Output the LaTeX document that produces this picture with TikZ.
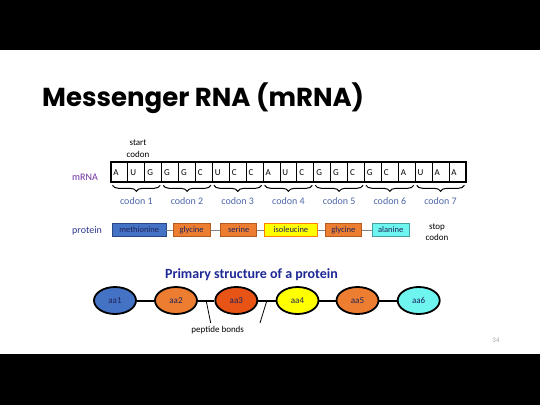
\documentclass[tikz,border=0pt]{standalone}
\usepackage{fontspec}
\setmainfont{Carlito}
\newfontfamily\titlefont{Poppins}
\usetikzlibrary{shapes.geometric,decorations.pathreplacing,calc,positioning}

\definecolor{mrnapurple}{RGB}{112,48,160}
\definecolor{codonblue}{RGB}{78,104,168}
\definecolor{protblue}{RGB}{46,56,140}
\definecolor{boxtext}{RGB}{30,36,90}
\definecolor{metblue}{RGB}{68,114,196}
\definecolor{metedge}{RGB}{40,70,130}
\definecolor{aaorange}{RGB}{237,125,49}
\definecolor{orangeedge}{RGB}{180,90,30}
\definecolor{aared}{RGB}{232,84,22}
\definecolor{aayellow}{RGB}{255,255,0}
\definecolor{aacyan}{RGB}{110,245,240}
\definecolor{cyanedge}{RGB}{70,160,160}
\definecolor{titleblue}{RGB}{30,40,150}

\begin{document}
\begin{tikzpicture}[x=1pt,y=-1pt,
  cell/.style={draw,line width=1pt,fill=white,minimum width=16.9pt,minimum height=19pt,
    inner xsep=2pt,text width=12pt,align=left,font=\fontsize{9}{10}\selectfont},
  codonbrace/.style={decorate,decoration={brace,mirror,amplitude=6pt},line width=1pt},
  codonlbl/.style={text=codonblue,font=\fontsize{10}{12}\selectfont},
  aminobox/.style={draw,line width=0.8pt,minimum height=13pt,inner sep=0pt,
    text=boxtext,font=\fontsize{8.5}{10}\selectfont},
  amino/.style={ellipse,draw,line width=1.8pt,minimum width=42pt,minimum height=27pt,
    inner sep=0pt,text=boxtext,font=\fontsize{9}{10}\selectfont},
  link/.style={draw=gray,line width=1pt},
  bond/.style={line width=2pt}]
\useasboundingbox (0,0) rectangle (540,405);
\fill[white] (0,0) rectangle (540,405);
\fill[black] (0,0) rectangle (540,50);
\fill[black] (0,354) rectangle (540,405);

\node[anchor=base west,inner sep=0pt,font=\titlefont\bfseries\fontsize{26}{30}\selectfont] (title) at (42,106) {Messenger RNA (mRNA)};

% mRNA strand
\foreach \b [count=\i] in {A,U,G,G,G,C,U,C,C,A,U,C,G,G,C,G,C,A,U,A,A}
  \node[cell] (c\i) at ({111+16.9*(\i-1)+8.45},172.3) {\b};
\draw[line width=2pt] (c1.north west) rectangle (c21.south east);
\node[align=center,font=\fontsize{9}{12}\selectfont] (start) at (138,149) {start\\codon};
\node[text=mrnapurple,font=\fontsize{10}{12}\selectfont] (mrna) at (85,177) {mRNA};

\foreach \k [evaluate=\k as \first using int(3*\k-2),
             evaluate=\k as \mid using int(3*\k-1),
             evaluate=\k as \last using int(3*\k)] in {1,...,7} {
  \draw[codonbrace] ([xshift=2pt,yshift=-3pt]c\first.south west) -- ([xshift=-2pt,yshift=-3pt]c\last.south east);
  \node[codonlbl] (cod\k) at ([yshift=-19pt]c\mid.south) {codon \k};
}

% protein row
\node[text=protblue,font=\fontsize{10}{12}\selectfont] (protein) at (87,230.5) {protein};
\node[aminobox,fill=metblue,draw=metedge,minimum width=53.7pt] (p1) at (139.2,230) {methionine};
\node[aminobox,fill=aaorange,draw=orangeedge,minimum width=36.7pt] (p2) at (191.7,230) {glycine};
\node[aminobox,fill=aaorange,draw=orangeedge,minimum width=36pt] (p3) at (238.7,230) {serine};
\node[aminobox,fill=aayellow,draw=orange,minimum width=53.7pt] (p4) at (290.9,230) {isoleucine};
\node[aminobox,fill=aaorange,draw=orangeedge,minimum width=36.7pt] (p5) at (343.4,230) {glycine};
\node[aminobox,fill=aacyan,draw=cyanedge,minimum width=36.7pt] (p6) at (390.7,230) {alanine};
\foreach \a/\b in {p1/p2,p2/p3,p3/p4,p4/p5,p5/p6}
  \draw[link] (\a) -- (\b);
\node[align=center,font=\fontsize{9}{11}\selectfont] (stop) at (437,232.5) {stop\\codon};

% primary structure
\node[text=titleblue,font=\bfseries\fontsize{14}{16}\selectfont] (primary) at (251.5,274.5) {Primary structure of a protein};
\node[amino,fill=metblue] (aa1) at (115,300.5) {aa1};
\node[amino,fill=aaorange] (aa2) at (176,300.5) {aa2};
\node[amino,fill=aared] (aa3) at (236.3,300.5) {aa3};
\node[amino,fill=aayellow] (aa4) at (297.5,300.5) {aa4};
\node[amino,fill=aaorange] (aa5) at (357.5,300.5) {aa5};
\node[amino,fill=aacyan] (aa6) at (418.7,300.5) {aa6};
\foreach \a/\b in {aa1/aa2,aa2/aa3,aa3/aa4,aa4/aa5,aa5/aa6}
  \draw[bond] (\a) -- (\b);

\node[font=\fontsize{9}{11}\selectfont] (bonds) at (217.7,330.5) {peptide bonds};
\coordinate (b23) at ($(aa2.east)!0.5!(aa3.west)$);
\coordinate (b34) at ($(aa3.east)!0.5!(aa4.west)$);
\coordinate (pb1) at (210.7,323);
\coordinate (pb2) at (260,323);
\draw[line width=0.8pt] (b23) -- (pb1);
\draw[line width=0.8pt] (b34) -- (pb2);

\node[text=gray!70,font=\fontsize{7}{8}\selectfont] (page) at (496,340) {34};
\end{tikzpicture}
\end{document}
